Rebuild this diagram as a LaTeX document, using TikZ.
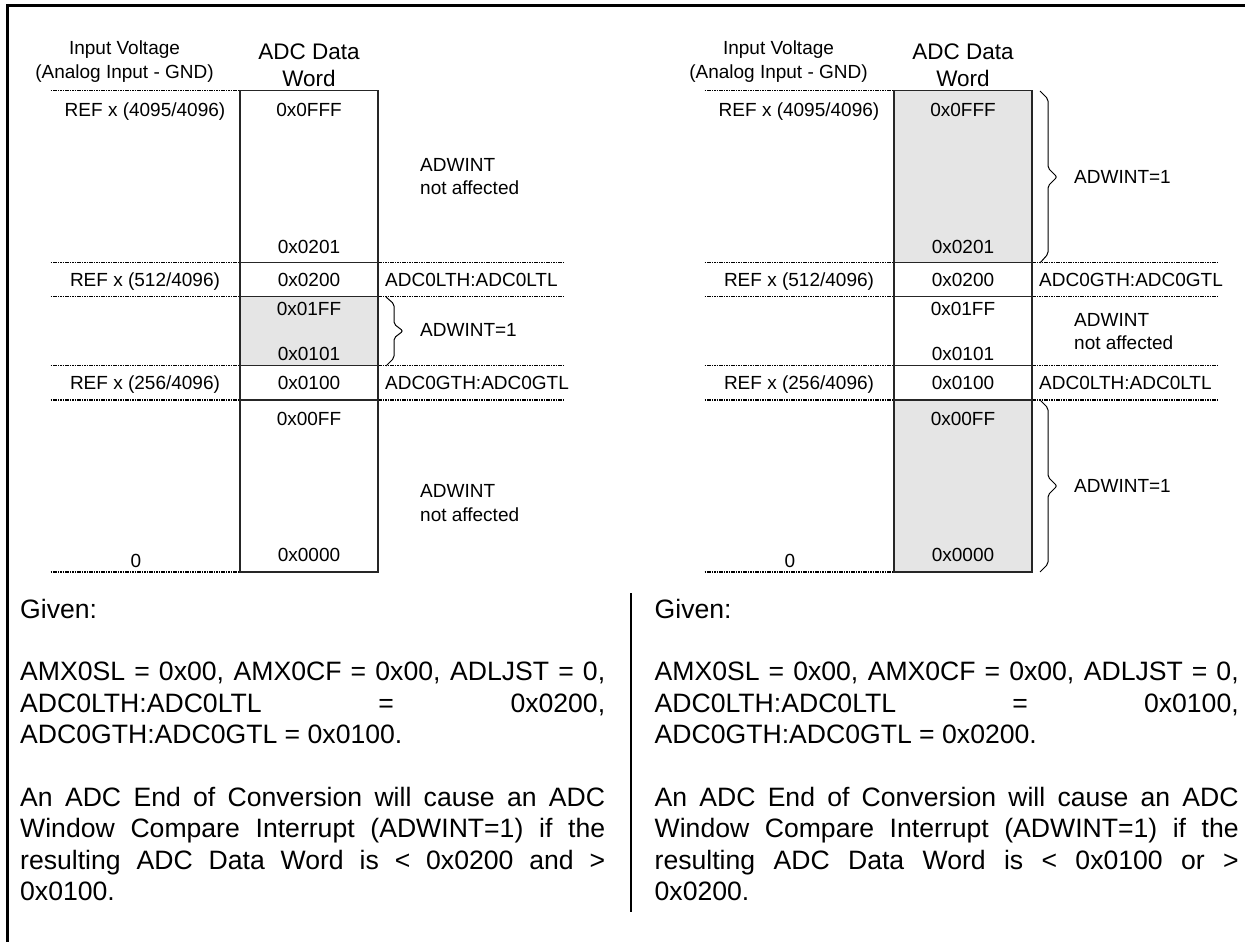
\documentclass[tikz,border=0pt]{standalone}
\usepackage{fontspec}
\setmainfont{Liberation Sans}
\begin{document}
\begin{tikzpicture}[x=1pt,y=-1pt,
  lbl/.style={inner sep=0pt, font=\fontsize{19}{23}\selectfont, text height=13.6pt, text depth=0pt},
  hdr/.style={inner sep=0pt, font=\fontsize{22.5}{27}\selectfont, text height=16.1pt, text depth=0pt},
  para/.style={inner sep=0pt, anchor=base west, font=\fontsize{26.6}{31.4}\selectfont},
  lvl/.style={line width=1.4pt, dash pattern=on 1.6pt off 0.8pt},
  boxln/.style={line width=1.3pt, draw=black!85},
  brc/.style={line width=1pt, rounded corners=2pt},
  frm/.style={line width=3pt},
  shade/.style={fill=gray!20}
]
\useasboundingbox (0,0) rectangle (1245,942);
\draw[frm] (1245,6) -- (7.5,6) -- (7.5,942);

% ---------- left panel ----------
\fill[shade] (240,296.7) rectangle (378,365.7);
\foreach \y in {90.7,262.7,296.7,365.7,400,572} \draw[lvl] (50.6,\y) -- (240,\y);
\foreach \y in {262.7,296.7,365.7,400} \draw[lvl] (378,\y) -- (565,\y);
\draw[boxln] (240,90.7) rectangle (378,572);
\foreach \y in {262.7,296.7,365.7,400} \draw[boxln] (240,\y) -- (378,\y);
\draw[brc] (386,297) -- (394,304) -- (394,324) -- (403,331) -- (394,338) -- (394,358) -- (386,366);

\node[lbl] (aIV) at (124.5,48) {Input Voltage};
\node[lbl] (aAI) at (124.5,72) {(Analog Input - GND)};
\node[hdr] (aAD) at (309,51) {ADC Data};
\node[hdr] (aWd) at (309,78) {Word};
\node[lbl] (aR1) at (145,110) {REF x (4095/4096)};
\node[lbl] (aR2) at (145,279.3) {REF x (512/4096)};
\node[lbl] (aR3) at (145,382.7) {REF x (256/4096)};
\node[lbl] (aR0) at (136,560.7) {0};
\node[lbl] (aW1) at (309,109.3) {0x0FFF};
\node[lbl] (aW2) at (309,247) {0x0201};
\node[lbl] (aW3) at (309,279.3) {0x0200};
\node[lbl] (aW4) at (309,308.3) {0x01FF};
\node[lbl] (aW5) at (309,353.3) {0x0101};
\node[lbl] (aW6) at (309,382.7) {0x0100};
\node[lbl] (aW7) at (309,418.3) {0x00FF};
\node[lbl] (aW8) at (309,555) {0x0000};
\node[lbl, anchor=west] (aT1) at (385,279.3) {ADC0LTH:ADC0LTL};
\node[lbl, anchor=west] (aT2) at (385,382.7) {ADC0GTH:ADC0GTL};
\node[lbl, anchor=west] (aN1a) at (420,164.5) {ADWINT};
\node[lbl, anchor=west] (aN1b) at (420,188) {not affected};
\node[lbl, anchor=west] (aI1) at (420,330) {ADWINT=1};
\node[lbl, anchor=west] (aN2a) at (420,490.7) {ADWINT};
\node[lbl, anchor=west] (aN2b) at (420,515) {not affected};

% ---------- right panel ----------
\begin{scope}[xshift=654pt]
\fill[shade] (240,90.7) rectangle (378,262.7);
\fill[shade] (240,400) rectangle (378,572);
\foreach \y in {90.7,262.7,296.7,365.7,400,572} \draw[lvl] (50.6,\y) -- (240,\y);
\foreach \y in {262.7,296.7,365.7,400} \draw[lvl] (378,\y) -- (565,\y);
\draw[boxln] (240,90.7) rectangle (378,572);
\foreach \y in {262.7,296.7,365.7,400} \draw[boxln] (240,\y) -- (378,\y);
\draw[brc] (386,91) -- (394,99) -- (394,168) -- (403,177) -- (394,186) -- (394,254) -- (386,263);
\draw[brc] (386,400) -- (394,408) -- (394,477) -- (403,486) -- (394,495) -- (394,564) -- (386,572);

\node[lbl] (bIV) at (124.5,48) {Input Voltage};
\node[lbl] (bAI) at (124.5,72) {(Analog Input - GND)};
\node[hdr] (bAD) at (309,51) {ADC Data};
\node[hdr] (bWd) at (309,78) {Word};
\node[lbl] (bR1) at (145,110) {REF x (4095/4096)};
\node[lbl] (bR2) at (145,279.3) {REF x (512/4096)};
\node[lbl] (bR3) at (145,382.7) {REF x (256/4096)};
\node[lbl] (bR0) at (136,560.7) {0};
\node[lbl] (bW1) at (309,109.3) {0x0FFF};
\node[lbl] (bW2) at (309,247) {0x0201};
\node[lbl] (bW3) at (309,279.3) {0x0200};
\node[lbl] (bW4) at (309,308.3) {0x01FF};
\node[lbl] (bW5) at (309,353.3) {0x0101};
\node[lbl] (bW6) at (309,382.7) {0x0100};
\node[lbl] (bW7) at (309,418.3) {0x00FF};
\node[lbl] (bW8) at (309,555) {0x0000};
\node[lbl, anchor=west] (bT1) at (385,279.3) {ADC0GTH:ADC0GTL};
\node[lbl, anchor=west] (bT2) at (385,382.7) {ADC0LTH:ADC0LTL};
\node[lbl, anchor=west] (bI1) at (420,176.7) {ADWINT=1};
\node[lbl, anchor=west] (bNa) at (420,320) {ADWINT};
\node[lbl, anchor=west] (bNb) at (420,342.7) {not affected};
\node[lbl, anchor=west] (bI2) at (420,486) {ADWINT=1};
\end{scope}

% ---------- separator ----------
\draw[line width=2.5pt] (631,593) -- (631,912);

% ---------- bottom texts ----------
\node[para] (aG) at (20,618) {Given:};
\node[para] (aP1) at (20,680.8) {\makebox[585pt][s]{AMX0SL = 0x00, AMX0CF = 0x00, ADLJST = 0,}};
\node[para] (aP2) at (20,712.2) {\makebox[585pt][s]{ADC0LTH:ADC0LTL = 0x0200,}};
\node[para] (aP3) at (20,743.6) {ADC0GTH:ADC0GTL = 0x0100.};
\node[para] (aQ1) at (20,806.4) {\makebox[585pt][s]{An ADC End of Conversion will cause an ADC}};
\node[para] (aQ2) at (20,837.8) {\makebox[585pt][s]{Window Compare Interrupt (ADWINT=1) if the}};
\node[para] (aQ3) at (20,869.2) {\makebox[585pt][s]{resulting ADC Data Word is < 0x0200 and >}};
\node[para] (aQ4) at (20,900.6) {0x0100.};

\node[para] (bG) at (654.5,618) {Given:};
\node[para] (bP1) at (654.5,680.8) {\makebox[584pt][s]{AMX0SL = 0x00, AMX0CF = 0x00, ADLJST = 0,}};
\node[para] (bP2) at (654.5,712.2) {\makebox[584pt][s]{ADC0LTH:ADC0LTL = 0x0100,}};
\node[para] (bP3) at (654.5,743.6) {ADC0GTH:ADC0GTL = 0x0200.};
\node[para] (bQ1) at (654.5,806.4) {\makebox[584pt][s]{An ADC End of Conversion will cause an ADC}};
\node[para] (bQ2) at (654.5,837.8) {\makebox[584pt][s]{Window Compare Interrupt (ADWINT=1) if the}};
\node[para] (bQ3) at (654.5,869.2) {\makebox[584pt][s]{resulting ADC Data Word is < 0x0100 or >}};
\node[para] (bQ4) at (654.5,900.6) {0x0200.};
\end{tikzpicture}
\end{document}
